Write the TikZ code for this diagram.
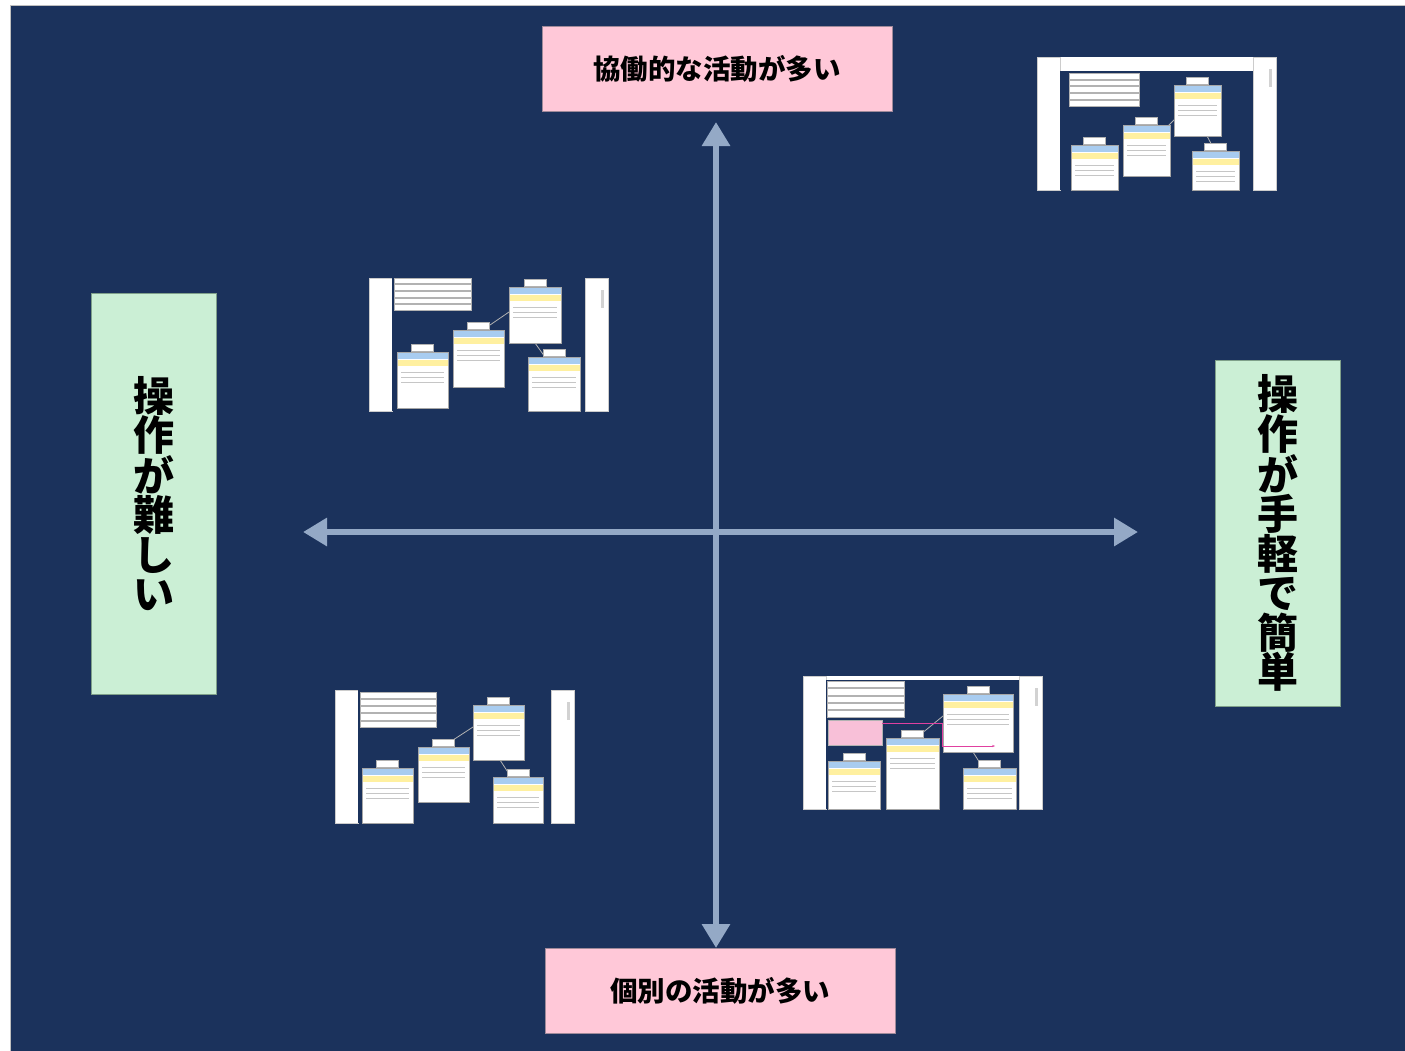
\documentclass[tikz,border=0pt]{standalone}
\usepackage{fontspec}
\newfontfamily\jpfont{Noto Sans CJK JP}[BoldFont={Noto Sans CJK JP Black}]
\usetikzlibrary{arrows.meta}

\definecolor{navy}{HTML}{1B325C}
\definecolor{axisblue}{HTML}{94A9C6}
\definecolor{pinkfill}{HTML}{FFC8D8}
\definecolor{pinkedge}{HTML}{A08A9A}
\definecolor{greenfill}{HTML}{CBEFD5}
\definecolor{greenedge}{HTML}{7FA08A}
\definecolor{headblue}{HTML}{A8CCF0}
\definecolor{baryellow}{HTML}{FFF0A0}
\definecolor{memopink}{HTML}{F8C0D8}
\definecolor{memoline}{HTML}{E040A0}

\tikzset{
  pinklabel/.style={draw=pinkedge, fill=pinkfill, line width=0.6pt, outer sep=0pt,
    minimum width=350pt, minimum height=85pt,
    font=\jpfont\bfseries\fontsize{27.5}{30}\selectfont},
  greenlabel/.style={draw=greenedge, fill=greenfill, line width=0.6pt, outer sep=0pt,
    minimum width=125pt, align=center,
    font=\jpfont\bfseries\fontsize{41}{39.5}\selectfont},
  axis/.style={line width=6pt, draw=axisblue,
    {Triangle[width=27pt,length=24pt]}-{Triangle[width=27pt,length=24pt]}},
  stripedge/.style={draw=gray!40, line width=0.5pt},
  tablerow/.style={fill=white, draw=gray!60, line width=0.3pt},
  cardedge/.style={draw=gray!70, line width=0.4pt},
  cardtab/.style={fill=white, draw=gray!60, line width=0.3pt},
  textline/.style={draw=gray!45, line width=0.6pt},
  cardlink/.style={draw=gray!60, line width=0.8pt}
}

% white page of a screenshot, #1 = top of the dark area
\newcommand{\docpage}[1]{%
  \fill[white] (0,0) rectangle (240,133);
  \draw[stripedge] (0.5,0.5) rectangle (23,133);
  \draw[stripedge] (216,0.5) rectangle (239.5,133);
  \fill[navy] (23,#1) rectangle (216,133);
  \fill[gray!35] (232,12) rectangle (235,30); % scroll bar
}
% five row table, corners (#1,#2) and (#3,#4)
\newcommand{\minitable}[4]{%
  \foreach \k in {0,...,4}
    \draw[tablerow] (#1,{#2+\k*(#4-#2)/5}) rectangle (#3,{#2+(\k+1)*(#4-#2)/5-1});
}
% card with tab, blue head and yellow bar
\newcommand{\minicard}[4]{%
  \fill[white] (#1,#2) rectangle (#3,#4);
  \fill[headblue] (#1,#2) rectangle (#3,{#2+7});
  \fill[baryellow] (#1,{#2+8}) rectangle (#3,{#2+14});
  \foreach \k in {0,1,2}
    \draw[textline] ({#1+4},{#2+20+\k*5}) -- ({#3-4},{#2+20+\k*5});
  \draw[cardedge] (#1,#2) rectangle (#3,#4);
  \draw[cardtab] ({(#1+#3)/2-11},{#2-8}) rectangle ({(#1+#3)/2+11},{#2-1});
}

\begin{document}
\begin{tikzpicture}[x=1pt, y=-1pt]
  \useasboundingbox (0,0) rectangle (1405,1050);
  \filldraw[fill=navy, draw=gray!50, line width=0.8pt] (10,5) rectangle (1406,1051); % backdrop

  % labels
  \node[pinklabel] (many) at (717,68.5) {協働的な活動が多い};
  \node[pinklabel] (single) at (720,990.5) {個別の活動が多い};
  \node[greenlabel, minimum height=401pt] (hard) at (153.5,493.5) {操\\作\\が\\難\\し\\い};
  \node[greenlabel, minimum height=346pt] (easy) at (1277.5,533) {操\\作\\が\\手\\軽\\で\\簡\\単};

  % axes
  \coordinate (north) at (716,122);
  \coordinate (west) at (303,532);
  \coordinate (east) at (1138,532);
  \draw[axis] (north) -- (single.north -| north);
  \draw[axis] (west) -- (east);

  % top right screenshot
  \begin{scope}[shift={(1037,57)}]
    \docpage{14}
    \minitable{32}{16}{102}{50}
    \draw[cardlink] (120,80) -- (140,60);
    \draw[cardlink] (170,79) -- (178,94);
    \minicard{34}{88}{81}{133}
    \minicard{86}{68}{133}{119}
    \minicard{137}{28}{184}{79}
    \minicard{155}{94}{202}{133}
  \end{scope}

  % top left screenshot
  \begin{scope}[shift={(369,278)}]
    \docpage{0}
    \minitable{25}{0}{102}{33}
    \draw[cardlink] (121,47) -- (140,34);
    \draw[cardlink] (166,65) -- (176,79);
    \minicard{28}{74}{79}{130}
    \minicard{84}{52}{135}{109}
    \minicard{140}{9}{192}{65}
    \minicard{159}{79}{211}{133}
  \end{scope}

  % bottom left screenshot
  \begin{scope}[shift={(335,690)}]
    \docpage{0}
    \minitable{25}{2}{101}{38}
    \draw[cardlink] (118,50) -- (138,37);
    \draw[cardlink] (165,70) -- (176,87);
    \minicard{27}{78}{78}{133}
    \minicard{83}{57}{134}{112}
    \minicard{138}{15}{189}{70}
    \minicard{158}{87}{208}{133}
  \end{scope}

  % bottom right screenshot
  \begin{scope}[shift={(803,676)}]
    \docpage{4}
    \minitable{24}{5}{101}{42}
    \draw[cardlink] (118,58) -- (140,40);
    \draw[cardlink] (170,76) -- (180,92);
    \minicard{25}{85}{77}{133}
    \minicard{83}{62}{136}{133}
    \minicard{140}{18}{210}{76}
    \minicard{160}{92}{213}{133}
    \filldraw[fill=memopink, draw=gray!60, line width=0.3pt] (25,44) rectangle (79,69); % memo
    \draw[memoline, line width=0.8pt, -{Stealth[length=3pt]}] (79,47) -- (139,47) -- (139,70) -- (192,70);
  \end{scope}
\end{tikzpicture}
\end{document}
